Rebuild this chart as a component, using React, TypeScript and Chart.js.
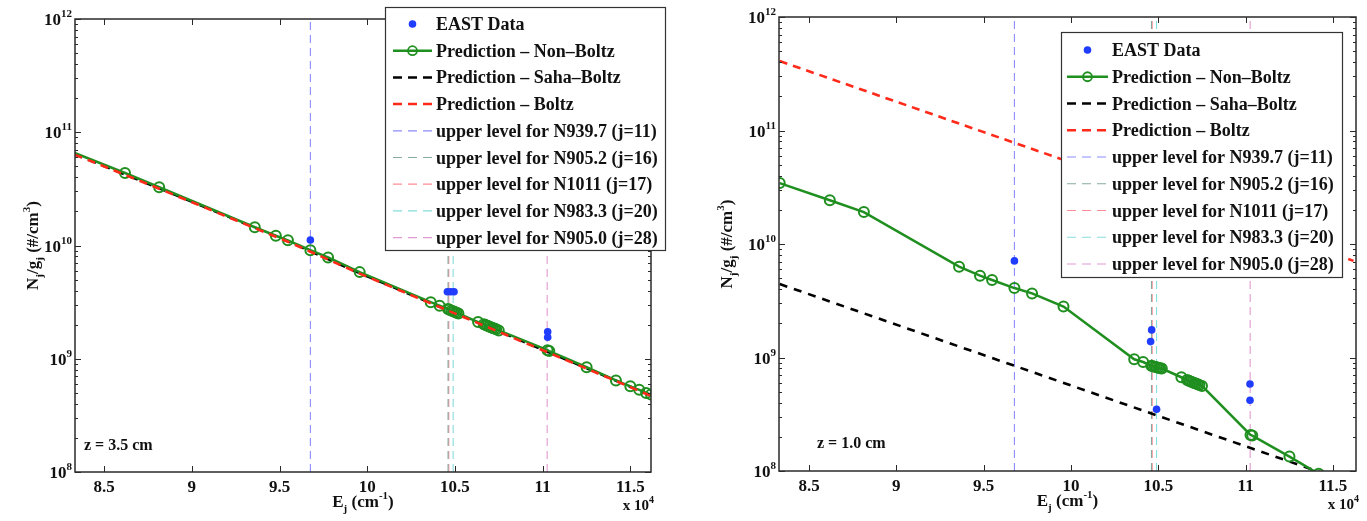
import { useEffect, useRef } from "react";
import { Chart, registerables } from "chart.js";

Chart.register(...registerables);

// ---- data -------------------------------------------------------------
// Upper-level energies of the modelled N I levels (cm^-1)
const levelEnergy = [
  83320, 86190, 88140, 93590, 94790, 95480, 96760, 97770, 99570, 103620, 104130,
  104600, 104680, 104800, 104900, 105000, 105100, 105200,
  106320, 106650, 106750, 106850, 106950, 107050, 107150, 107250, 107350, 107500,
  110280, 110380, 112510, 114180, 115000, 115510, 115900, 116180,
];

// Non-Boltzmann prediction N_j/g_j (#/cm^3), z = 3.5 cm
const nonBoltz35 = [
  6.56e10, 4.37e10, 3.27e10, 1.45e10, 1.22e10, 1.11e10, 9.08e9, 7.85e9, 5.82e9, 3.16e9, 2.94e9,
  2.75e9, 2.72e9, 2.66e9, 2.63e9, 2.59e9, 2.55e9, 2.51e9,
  2.11e9, 2.02e9, 1.99e9, 1.96e9, 1.93e9, 1.9e9, 1.87e9, 1.85e9, 1.82e9, 1.78e9,
  1.19e9, 1.17e9, 8.41e8, 6.43e8, 5.71e8, 5.32e8, 4.99e8, 4.83e8,
];

// Non-Boltzmann prediction N_j/g_j (#/cm^3), z = 1.0 cm
const nonBoltz10 = [
  3.44e10, 2.43e10, 1.91e10, 6.31e9, 5.26e9, 4.82e9, 4.09e9, 3.67e9, 2.81e9, 9.64e8, 9.12e8,
  8.47e8, 8.36e8, 8.28e8, 8.2e8, 8.13e8, 8.05e8, 8.0e8,
  6.7e8, 6.34e8, 6.24e8, 6.14e8, 6.05e8, 5.97e8, 5.89e8, 5.81e8, 5.73e8, 5.62e8,
  2.08e8, 2.05e8, 1.34e8, 9.44e7, 7.94e7, 7.16e7, 6.61e7, 6.24e7,
];

// Boltzmann / Saha-Boltzmann predictions, z = 3.5 cm (near-equilibrium)
const equilEnergy35 = [83320, 88140, 95480, 99570, 104130, 107500, 112510, 116180];
const boltz35 = [6.35e10, 3.17e10, 1.08e10, 5.65e9, 2.86e9, 1.73e9, 8.18e8, 4.7e8];
const saha35 = [6.4e10, 3.2e10, 1.09e10, 5.7e9, 2.88e9, 1.75e9, 8.25e8, 4.74e8];

// Boltzmann / Saha-Boltzmann predictions, z = 1.0 cm
const equilEnergy10 = [83320, 116180];
const boltz10 = [4.09e11, 7.1e9];
const saha10 = [4.44e9, 7.7e7];

// EAST measurements
const eastEnergy35 = [96760, 104570, 104760, 104950, 110290, 110290];
const eastDensity35 = [1.12e10, 3.9e9, 3.9e9, 3.9e9, 1.73e9, 1.55e9];
const eastEnergy10 = [96760, 104620, 104560, 104900, 110250, 110250];
const eastDensity10 = [7.1e9, 1.75e9, 1.38e9, 3.5e8, 5.85e8, 4.2e8];

// Upper levels of the observed lines
const upperLevelEnergy = [96760, 104610, 104650, 104900, 110260];
const upperLevelNames = [
  "upper level for N939.7 (j=11)",
  "upper level for N905.2 (j=16)",
  "upper level for N1011 (j=17)",
  "upper level for N983.3 (j=20)",
  "upper level for N905.0 (j=28)",
];
const upperLevelColors = ["#8c8cff", "#86aaa2", "#ff8c96", "#86dede", "#e29ad2"];

// Axis ticks
const xTickValues = [85000, 90000, 95000, 100000, 105000, 110000, 115000];
const xTickLabels = ["8.5", "9", "9.5", "10", "10.5", "11", "11.5"];
const yDecades = [8, 9, 10, 11, 12];

// ---- drawing helpers ----------------------------------------------------
const FONT = '"Liberation Serif", "Times New Roman", serif';
const GREEN = "#1f8f1f";
const BLUE = "#1f3cff";
const RED = "#ff2a1a";
const BLACK = "#000000";
const AXIS = "#2a2a2a";

type Part = { t: string; k?: "sub" | "sup" };

function drawRich(
  ctx: CanvasRenderingContext2D,
  parts: Part[],
  x: number,
  y: number,
  size: number,
  align: "left" | "center" | "right"
) {
  const small = Math.round(size * 0.66);
  const widths = parts.map((p) => {
    ctx.font = `bold ${p.k ? small : size}px ${FONT}`;
    return ctx.measureText(p.t).width;
  });
  const total = widths.reduce((a, b) => a + b, 0);
  let cx = align === "left" ? x : align === "center" ? x - total / 2 : x - total;
  ctx.textAlign = "left";
  ctx.textBaseline = "alphabetic";
  parts.forEach((p, i) => {
    ctx.font = `bold ${p.k ? small : size}px ${FONT}`;
    const dy = p.k === "sub" ? size * 0.3 : p.k === "sup" ? -size * 0.47 : 0;
    ctx.fillText(p.t, cx, y + dy);
    cx += widths[i];
  });
}

type PanelCfg = {
  legendX: number;
  legendY: number;
  legendW: number;
  legendH: number;
  rowY0: number;
  rowH: number;
  symX0: number;
  symX1: number;
  textX: number;
  zText: string;
  zX: number;
  zY: number;
  yLabelX: number;
};

const legendRows: { label: string; kind: "dot" | "lineMarker" | "dash" | "thin"; color: string }[] = [
  { label: "EAST Data", kind: "dot", color: BLUE },
  { label: "Prediction \u2013 Non\u2013Boltz", kind: "lineMarker", color: GREEN },
  { label: "Prediction \u2013 Saha\u2013Boltz", kind: "dash", color: BLACK },
  { label: "Prediction \u2013 Boltz", kind: "dash", color: RED },
  ...upperLevelNames.map((n, i) => ({ label: n, kind: "thin" as const, color: upperLevelColors[i] })),
];

const decorPlugin = {
  id: "panelDecor",
  afterDraw(chart: any, _args: any, cfg: PanelCfg) {
    const ctx: CanvasRenderingContext2D = chart.ctx;
    const { left, right, top, bottom } = chart.chartArea;
    const xs = chart.scales.x;
    const ys = chart.scales.y;
    ctx.save();

    // axes box
    ctx.strokeStyle = AXIS;
    ctx.lineWidth = 1.5;
    ctx.setLineDash([]);
    ctx.strokeRect(left, top, right - left, bottom - top);

    // x ticks (inward, bottom and top)
    ctx.lineWidth = 1;
    xTickValues.forEach((v) => {
      const px = Math.round(xs.getPixelForValue(v)) + 0.5;
      ctx.beginPath();
      ctx.moveTo(px, bottom);
      ctx.lineTo(px, bottom - 6);
      ctx.moveTo(px, top);
      ctx.lineTo(px, top + 6);
      ctx.stroke();
    });

    // y ticks (decades + minor)
    yDecades.forEach((d) => {
      for (let m = 1; m <= 9; m++) {
        const v = m * Math.pow(10, d);
        if (v > 1e12 || v < 1e8) continue;
        const py = Math.round(ys.getPixelForValue(v)) + 0.5;
        const len = m === 1 ? 6 : 3;
        ctx.beginPath();
        ctx.moveTo(left, py);
        ctx.lineTo(left + len, py);
        ctx.moveTo(right, py);
        ctx.lineTo(right - len, py);
        ctx.stroke();
      }
    });

    ctx.fillStyle = "#111";
    // x tick labels
    xTickValues.forEach((v, i) => {
      drawRich(ctx, [{ t: xTickLabels[i] }], xs.getPixelForValue(v), bottom + 20, 17, "center");
    });
    // y tick labels
    yDecades.forEach((d) => {
      const py = ys.getPixelForValue(Math.pow(10, d));
      drawRich(ctx, [{ t: "10" }, { t: String(d), k: "sup" }], left - 3, py + 6, 17, "right");
    });

    // axis titles
    drawRich(
      ctx,
      [{ t: "E" }, { t: "j", k: "sub" }, { t: " (cm" }, { t: "-1", k: "sup" }, { t: ")" }],
      (left + right) / 2,
      bottom + 35,
      17,
      "center"
    );
    drawRich(ctx, [{ t: "x 10" }, { t: "4", k: "sup" }], right + 3, bottom + 38, 15, "right");
    ctx.save();
    ctx.translate(cfg.yLabelX, (top + bottom) / 2);
    ctx.rotate(-Math.PI / 2);
    drawRich(
      ctx,
      [
        { t: "N" },
        { t: "j", k: "sub" },
        { t: "/g" },
        { t: "j", k: "sub" },
        { t: " (#/cm" },
        { t: "3", k: "sup" },
        { t: ")" },
      ],
      0,
      0,
      17,
      "center"
    );
    ctx.restore();

    // position annotation
    drawRich(ctx, [{ t: cfg.zText }], cfg.zX, cfg.zY, 16, "left");

    // legend
    ctx.fillStyle = "#ffffff";
    ctx.fillRect(cfg.legendX, cfg.legendY, cfg.legendW, cfg.legendH);
    ctx.strokeStyle = "#333";
    ctx.lineWidth = 1.2;
    ctx.strokeRect(cfg.legendX + 0.5, cfg.legendY + 0.5, cfg.legendW, cfg.legendH);
    legendRows.forEach((row, i) => {
      const cy = cfg.rowY0 + i * cfg.rowH;
      const mid = (cfg.symX0 + cfg.symX1) / 2;
      ctx.setLineDash([]);
      if (row.kind === "dot") {
        ctx.fillStyle = row.color;
        ctx.beginPath();
        ctx.arc(mid, cy, 3.8, 0, Math.PI * 2);
        ctx.fill();
      } else if (row.kind === "lineMarker") {
        ctx.strokeStyle = row.color;
        ctx.lineWidth = 2.5;
        ctx.beginPath();
        ctx.moveTo(cfg.symX0, cy);
        ctx.lineTo(cfg.symX1, cy);
        ctx.stroke();
        ctx.lineWidth = 1.8;
        ctx.beginPath();
        ctx.arc(mid, cy, 4.5, 0, Math.PI * 2);
        ctx.stroke();
      } else {
        ctx.strokeStyle = row.color;
        ctx.lineWidth = row.kind === "dash" ? 2.5 : 1.2;
        ctx.setLineDash([9, 6]);
        ctx.beginPath();
        ctx.moveTo(cfg.symX0, cy);
        ctx.lineTo(cfg.symX1, cy);
        ctx.stroke();
      }
      ctx.setLineDash([]);
      ctx.fillStyle = "#111";
      drawRich(ctx, [{ t: row.label }], cfg.textX, cy + 6, 18, "left");
    });

    ctx.restore();
  },
};

function pts(xv: number[], yv: number[]) {
  return xv.map((x, i) => ({ x, y: yv[i] }));
}

function buildDatasets(
  east: { x: number; y: number }[],
  nonB: { x: number; y: number }[],
  saha: { x: number; y: number }[],
  boltz: { x: number; y: number }[],
  hideFirstMarker: boolean
) {
  const ds: any[] = [
    {
      label: "EAST Data",
      data: east,
      showLine: false,
      pointRadius: 3.8,
      pointBackgroundColor: BLUE,
      pointBorderWidth: 0,
      order: 0,
    },
    {
      label: "Prediction - Boltz",
      data: boltz,
      borderColor: RED,
      borderWidth: 2.6,
      borderDash: [8, 6],
      pointRadius: 0,
      order: 1,
    },
    {
      label: "Prediction - Non-Boltz",
      data: nonB,
      borderColor: GREEN,
      borderWidth: 2.5,
      pointRadius: nonB.map((_, i) => (hideFirstMarker && i === 0 ? 0 : 5)),
      pointBorderColor: GREEN,
      pointBorderWidth: 2,
      pointBackgroundColor: "rgba(0,0,0,0)",
      order: 2,
    },
    {
      label: "Prediction - Saha-Boltz",
      data: saha,
      borderColor: BLACK,
      borderWidth: 2.6,
      borderDash: [8, 7],
      pointRadius: 0,
      order: 3,
    },
  ];
  upperLevelEnergy.forEach((e, i) => {
    ds.push({
      label: upperLevelNames[i],
      data: [
        { x: e, y: 1e8 },
        { x: e, y: 1e12 },
      ],
      borderColor: upperLevelColors[i],
      borderWidth: 1.1,
      borderDash: [8, 5],
      pointRadius: 0,
      order: 4,
    });
  });
  return ds;
}

function makeChart(
  canvas: HTMLCanvasElement,
  datasets: any[],
  padding: { left: number; right: number; top: number; bottom: number },
  xMin: number,
  xMax: number,
  cfg: PanelCfg
) {
  return new Chart(canvas, {
    type: "line",
    data: { datasets },
    options: {
      responsive: false,
      animation: false,
      devicePixelRatio: 1,
      events: [],
      layout: { padding },
      scales: {
        x: { type: "linear", min: xMin, max: xMax, display: false },
        y: { type: "logarithmic", min: 1e8, max: 1e12, display: false },
      },
      elements: { line: { tension: 0 } },
      plugins: {
        legend: { display: false },
        tooltip: { enabled: false },
        panelDecor: cfg,
      } as any,
    },
    plugins: [decorPlugin],
  });
}

export default function App() {
  const leftRef = useRef<HTMLCanvasElement>(null);
  const rightRef = useRef<HTMLCanvasElement>(null);

  useEffect(() => {
    const charts: Chart[] = [];
    if (leftRef.current) {
      charts.push(
        makeChart(
          leftRef.current,
          buildDatasets(
            pts(eastEnergy35, eastDensity35),
            pts(levelEnergy, nonBoltz35),
            pts(equilEnergy35, saha35),
            pts(equilEnergy35, boltz35),
            true
          ),
          { left: 75, right: 32, top: 19, bottom: 49 },
          83340,
          116180,
          {
            legendX: 385,
            legendY: 7,
            legendW: 280,
            legendH: 243,
            rowY0: 24,
            rowH: 26.7,
            symX0: 393,
            symX1: 432,
            textX: 436,
            zText: "z = 3.5 cm",
            zX: 84,
            zY: 450,
            yLabelX: 38,
          }
        )
      );
    }
    if (rightRef.current) {
      charts.push(
        makeChart(
          rightRef.current,
          buildDatasets(
            pts(eastEnergy10, eastDensity10),
            pts(levelEnergy, nonBoltz10),
            pts(equilEnergy10, saha10),
            pts(equilEnergy10, boltz10),
            false
          ),
          { left: 96, right: 11, top: 17, bottom: 50 },
          83280,
          116320,
          {
            legendX: 378,
            legendY: 32,
            legendW: 281,
            legendH: 245,
            rowY0: 50,
            rowH: 26.75,
            symX0: 384,
            symX1: 425,
            textX: 429,
            zText: "z = 1.0 cm",
            zX: 134,
            zY: 448,
            yLabelX: 49,
          }
        )
      );
    }
    return () => charts.forEach((c) => c.destroy());
  }, []);

  return (
    <div
      style={{
        position: "fixed",
        left: 0,
        top: 0,
        width: 1367,
        height: 521,
        background: "#ffffff",
        overflow: "hidden",
      }}
    >
      <canvas
        ref={leftRef}
        width={683}
        height={521}
        style={{ position: "absolute", left: 0, top: 0, width: 683, height: 521 }}
      />
      <canvas
        ref={rightRef}
        width={684}
        height={521}
        style={{ position: "absolute", left: 683, top: 0, width: 684, height: 521 }}
      />
    </div>
  );
}
